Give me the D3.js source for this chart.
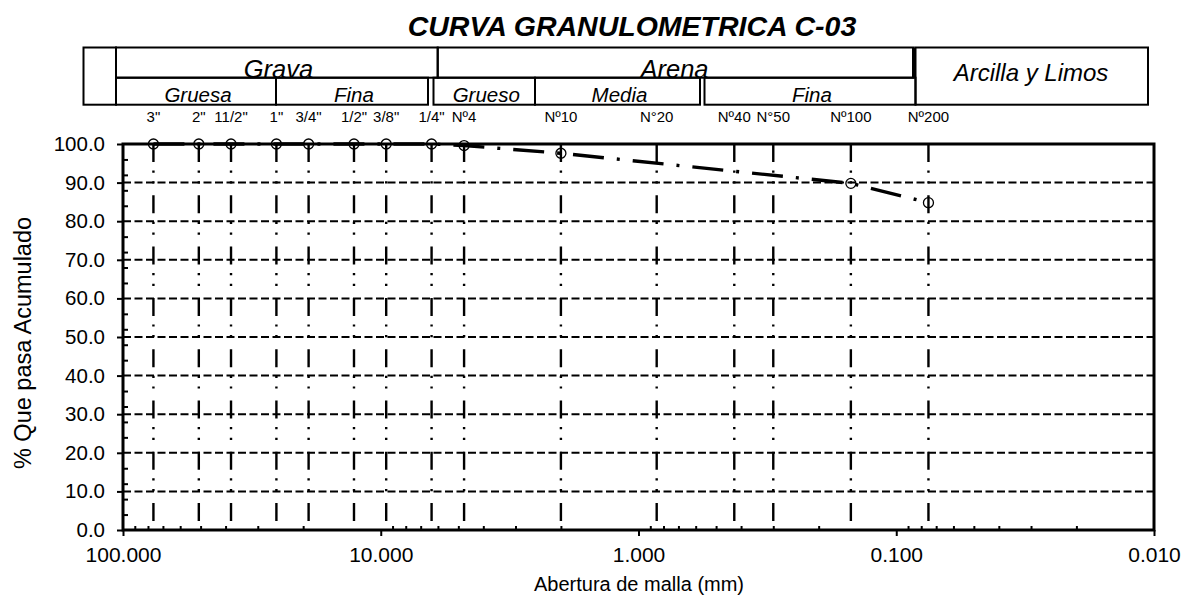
<!DOCTYPE html>
<html>
<head>
<meta charset="utf-8">
<script src="https://cdn.jsdelivr.net/npm/d3@7"></script>
<style>
  body { margin: 0; background: #fff; }
  svg text { font-family: "Liberation Sans", Arial, sans-serif; fill: #000; }
</style>
</head>
<body>
<svg id="granchart"></svg>
<script>
// sieve openings (mm) and their labels
var sieveLabels = ['3"', '2"', '11/2"', '1"', '3/4"', '1/2"', '3/8"', '1/4"', 'Nº4', 'Nº10', 'N°20', 'Nº40', 'N°50', 'Nº100', 'Nº200'];
var sieveSizes = [76.2, 50.8, 38.1, 25.4, 19.05, 12.7, 9.525, 6.35, 4.75, 2.0, 0.85, 0.425, 0.3, 0.15, 0.075];

// measured sample
var sampleSizes = [76.2, 50.8, 38.1, 25.4, 19.05, 12.7, 9.525, 6.35, 4.75, 2.0, 0.15, 0.075];
var percentPassing = [100, 100, 100, 100, 100, 100, 100, 100, 99.6, 97.6, 89.8, 84.8];

var yTicks = [0, 10, 20, 30, 40, 50, 60, 70, 80, 90, 100];
var xTicks = [100, 10, 1, 0.1, 0.01];

var W = 1186, H = 598;
var plot = { left: 123, right: 1154, top: 144, bottom: 530 };

var svg = d3.select('#granchart').attr('width', W).attr('height', H);

var x = d3.scaleLog().domain([100, 0.01]).range([plot.left, plot.right]);
var y = d3.scaleLinear().domain([0, 100]).range([plot.bottom, plot.top]);

// ---- title ----
svg.append('text')
  .attr('x', 632).attr('y', 36)
  .attr('text-anchor', 'middle')
  .style('font-size', '28.5px').style('font-weight', 'bold').style('font-style', 'italic')
  .text('CURVA GRANULOMETRICA C-03');

// ---- classification table ----
var tbl = svg.append('g').attr('fill', 'none').attr('stroke', '#000').attr('stroke-width', 2);
var r0 = 47.5, r1 = 77.7, r2 = 104.7;
tbl.append('rect').attr('x', 83.5).attr('y', r0).attr('width', 116 - 83.5).attr('height', r2 - r0);
tbl.append('rect').attr('x', 116).attr('y', r0).attr('width', 437.7 - 116).attr('height', r1 - r0);
tbl.append('rect').attr('x', 437.7).attr('y', r0).attr('width', 913.5 - 437.7).attr('height', r1 - r0);
tbl.append('line').attr('x1', 913.5).attr('x2', 913.5).attr('y1', r0).attr('y2', r1).attr('stroke-width', 3);
tbl.append('rect').attr('x', 915.5).attr('y', r0).attr('width', 1148 - 915.5).attr('height', r2 - r0);

var subCells = [
  { x0: 116, x1: 276, label: 'Gruesa' },
  { x0: 276, x1: 428, label: 'Fina' },
  { x0: 433.5, x1: 535, label: 'Grueso' },
  { x0: 535, x1: 700, label: 'Media' },
  { x0: 704.5, x1: 915.5, label: 'Fina' }
];
tbl.selectAll('rect.sub').data(subCells).enter().append('rect')
  .attr('class', 'sub')
  .attr('x', function (d) { return d.x0; })
  .attr('y', r1)
  .attr('width', function (d) { return d.x1 - d.x0; })
  .attr('height', r2 - r1);

svg.selectAll('text.sub').data(subCells).enter().append('text')
  .attr('class', 'sub')
  .attr('x', function (d) { return (d.x0 + d.x1) / 2 + 2; })
  .attr('y', 102)
  .attr('text-anchor', 'middle')
  .style('font-size', '20.5px').style('font-style', 'italic')
  .text(function (d) { return d.label; });

var topCells = [
  { cx: 278.5, label: 'Grava' },
  { cx: 674.5, label: 'Arena' }
];
svg.selectAll('text.top').data(topCells).enter().append('text')
  .attr('class', 'top')
  .attr('x', function (d) { return d.cx; })
  .attr('y', 78)
  .attr('text-anchor', 'middle')
  .style('font-size', '25.5px').style('font-style', 'italic')
  .text(function (d) { return d.label; });

svg.append('text')
  .attr('x', 1031).attr('y', 81)
  .attr('text-anchor', 'middle')
  .style('font-size', '24px').style('font-style', 'italic')
  .text('Arcilla y Limos');

// sieve labels
svg.selectAll('text.sieve').data(sieveSizes).enter().append('text')
  .attr('class', 'sieve')
  .attr('x', function (d) { return x(d); })
  .attr('y', 121.5)
  .attr('text-anchor', 'middle')
  .style('font-size', '15px')
  .text(function (d, i) { return sieveLabels[i]; });

// ---- grid ----
svg.append('g').selectAll('line').data(yTicks.filter(function (v) { return v > 0 && v < 100; }))
  .enter().append('line')
  .attr('x1', plot.left).attr('x2', plot.right)
  .attr('y1', function (d) { return y(d); }).attr('y2', function (d) { return y(d); })
  .attr('stroke', '#000').attr('stroke-width', 2)
  .attr('stroke-dasharray', '8,3.5');

svg.append('g').selectAll('line').data(sieveSizes)
  .enter().append('line')
  .attr('x1', function (d) { return x(d); }).attr('x2', function (d) { return x(d); })
  .attr('y1', plot.top).attr('y2', plot.bottom)
  .attr('stroke', '#000').attr('stroke-width', 2.4)
  .attr('stroke-dasharray', '18,8.5,2.2,8.5,2.2,11.9');

// ---- axes ----
var yAxis = svg.append('g')
  .attr('transform', 'translate(' + plot.left + ',0)')
  .call(d3.axisLeft(y).tickValues(yTicks).tickFormat(d3.format('.1f')).tickSize(6).tickPadding(12));
var minorY = d3.range(4, 100, 4).filter(function (v) { return v % 10 !== 0; });
svg.append('g')
  .attr('transform', 'translate(' + plot.left + ',0)')
  .call(d3.axisLeft(y).tickValues(minorY).tickFormat('').tickSize(-5));

var xAxis = svg.append('g')
  .attr('transform', 'translate(0,' + plot.bottom + ')')
  .call(d3.axisBottom(x).tickValues(xTicks).tickFormat(d3.format('.3f')).tickSize(6).tickPadding(11));
var minorX = [];
[10, 1, 0.1, 0.01].forEach(function (dec) {
  for (var k = 2; k <= 9; k++) minorX.push(dec * k);
});
svg.append('g')
  .attr('transform', 'translate(0,' + plot.bottom + ')')
  .call(d3.axisBottom(x).tickValues(minorX).tickFormat('').tickSize(-4));

svg.selectAll('.domain').remove();
svg.selectAll('.tick line').attr('stroke', '#000').attr('stroke-width', 2);
yAxis.selectAll('text').style('font-size', '20.5px').attr('font-family', null);
xAxis.selectAll('text').style('font-size', '21px').attr('font-family', null);

// frame
svg.append('rect')
  .attr('x', plot.left).attr('y', plot.top)
  .attr('width', plot.right - plot.left).attr('height', plot.bottom - plot.top)
  .attr('fill', 'none').attr('stroke', '#000').attr('stroke-width', 3);

// ---- data ----
var pts = sampleSizes.map(function (s, i) { return [s, percentPassing[i]]; });
svg.append('path')
  .datum(pts)
  .attr('fill', 'none')
  .attr('stroke', '#000')
  .attr('stroke-width', 3.4)
  .attr('stroke-dasharray', '31,13,3,13')
  .attr('d', d3.line()
    .x(function (d) { return x(d[0]); })
    .y(function (d) { return y(d[1]); }));

svg.append('g').selectAll('circle').data(pts).enter().append('circle')
  .attr('cx', function (d) { return x(d[0]); })
  .attr('cy', function (d) { return y(d[1]); })
  .attr('r', 5)
  .attr('fill', 'none').attr('stroke', '#000').attr('stroke-width', 1.3);

// ---- axis titles ----
svg.append('text')
  .attr('x', 639).attr('y', 591)
  .attr('text-anchor', 'middle')
  .style('font-size', '20px')
  .text('Abertura de malla (mm)');

svg.append('text')
  .attr('transform', 'translate(31,343) rotate(-90)')
  .attr('text-anchor', 'middle')
  .style('font-size', '23.5px')
  .text('% Que pasa Acumulado');
</script>
</body>
</html>
